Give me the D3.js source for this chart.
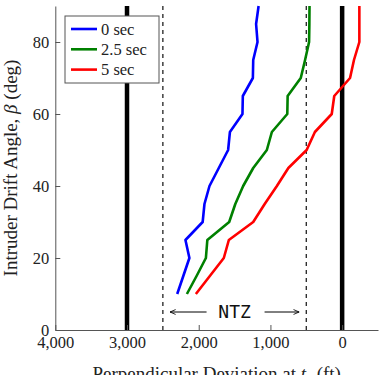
<!DOCTYPE html>
<html lang="en">
<head>
    <meta charset="UTF-8">
    <script src="https://d3js.org/d3.v7.min.js"></script>
    <style>
        body {
            margin: 0;
            padding: 0;
            background-color: #ffffff;
            overflow: hidden;
        }

        svg {
            display: block;
            font-family: 'Liberation Serif', serif;
        }

        .axis text {
            font-size: 16.5px;
            fill: #222;
            font-family: 'Liberation Serif', serif;
        }

        .axis path,
        .axis line {
            stroke: #555;
        }
    </style>
</head>
<body>
    <svg id="chart"></svg>

    <script>
        // Drift angle samples (deg)
        const angles = [10, 15, 20, 25, 30, 35, 40, 45, 50, 55, 60, 65, 70, 75, 80, 85, 90];

        // Perpendicular deviation (ft) for each delay
        const dev0 = [2300, 2215, 2130, 2185, 1945, 1920, 1850, 1720, 1590, 1565, 1390, 1385, 1245, 1240, 1180, 1200, 1165];
        const dev25 = [2165, 2030, 1900, 1880, 1575, 1490, 1380, 1240, 1050, 980, 765, 760, 577, 517, 461, 457, 455];
        const dev5 = [2040, 1845, 1650, 1580, 1240, 1080, 910, 750, 495, 380, 145, 110, -110, -165, -240, -240, -240];

        const seriesNames = ["0 sec", "2.5 sec", "5 sec"];
        const seriesColors = ["#0000ff", "#008000", "#ff0000"];

        const xTicks = [4000, 3000, 2000, 1000, 0];
        const yTicks = [0, 20, 40, 60, 80];

        // reference lines
        const solidLines = [3000, 0];
        const dashedLines = [2500, 500];
        const ntzFrom = 2400, ntzTo = 600, ntzMid = 1500, ntzAngle = 5;

        const width = 379, height = 375;
        const margin = { top: 6, right: 1, bottom: 45, left: 55.3 };

        const svg = d3.select("#chart")
            .attr("width", width)
            .attr("height", height);

        const x = d3.scaleLinear()
            .domain([4000, -500])
            .range([margin.left, width - margin.right]);

        const y = d3.scaleLinear()
            .domain([0, 90])
            .range([height - margin.bottom, margin.top]);

        // Solid thick lines
        svg.selectAll(".solid")
            .data(solidLines)
            .enter()
            .append("line")
            .attr("x1", d => x(d)).attr("x2", d => x(d))
            .attr("y1", y(0)).attr("y2", y(90))
            .attr("stroke", "#000")
            .attr("stroke-width", 4.5);

        // Dashed lines
        svg.selectAll(".dashed")
            .data(dashedLines)
            .enter()
            .append("line")
            .attr("x1", d => x(d)).attr("x2", d => x(d))
            .attr("y1", y(0)).attr("y2", y(90))
            .attr("stroke", "#222")
            .attr("stroke-width", 1.3)
            .attr("stroke-dasharray", "4,4");

        // Series lines
        const series = [dev0, dev25, dev5].map((vals, i) => ({
            name: seriesNames[i],
            color: seriesColors[i],
            points: vals.map((v, j) => ({ v: v, a: angles[j] }))
        }));

        const line = d3.line()
            .x(d => x(d.v))
            .y(d => y(d.a));

        svg.selectAll(".series")
            .data(series)
            .enter()
            .append("path")
            .attr("fill", "none")
            .attr("stroke", d => d.color)
            .attr("stroke-width", 2.6)
            .attr("stroke-linejoin", "round")
            .attr("d", d => line(d.points));

        // Axes
        svg.append("g")
            .attr("class", "axis")
            .attr("transform", `translate(0,${y(0)})`)
            .call(d3.axisBottom(x).tickValues(xTicks).tickSize(-5).tickSizeOuter(0).tickPadding(6)
                .tickFormat(d3.format(",")));

        svg.append("g")
            .attr("class", "axis")
            .attr("transform", `translate(${x(4000)},0)`)
            .call(d3.axisLeft(y).tickValues(yTicks).tickSize(-5).tickSizeOuter(0).tickPadding(6));

        // NTZ annotation
        svg.append("defs").append("marker")
            .attr("id", "arrow")
            .attr("viewBox", "0 0 10 10")
            .attr("refX", 9).attr("refY", 5)
            .attr("markerWidth", 7).attr("markerHeight", 7)
            .attr("orient", "auto")
            .append("path")
            .attr("d", "M1,1.5 L9,5 L1,8.5")
            .attr("fill", "none")
            .attr("stroke", "#000")
            .attr("stroke-width", 1.2);

        svg.append("line")
            .attr("x1", x(ntzMid) - 28).attr("x2", x(ntzFrom))
            .attr("y1", y(ntzAngle)).attr("y2", y(ntzAngle))
            .attr("stroke", "#000").attr("stroke-width", 1)
            .attr("marker-end", "url(#arrow)");

        svg.append("line")
            .attr("x1", x(ntzMid) + 30).attr("x2", x(ntzTo))
            .attr("y1", y(ntzAngle)).attr("y2", y(ntzAngle))
            .attr("stroke", "#000").attr("stroke-width", 1)
            .attr("marker-end", "url(#arrow)");

        svg.append("text")
            .attr("x", x(ntzMid))
            .attr("y", y(ntzAngle) + 6)
            .attr("text-anchor", "middle")
            .style("font-family", "'DejaVu Sans Mono', monospace")
            .style("font-size", "18px")
            .attr("fill", "#111")
            .text("NTZ");

        // Axis titles
        svg.append("text")
            .attr("x", (x(4000) + x(-500)) / 2)
            .attr("y", 380)
            .attr("text-anchor", "middle")
            .style("font-size", "19px")
            .attr("fill", "#222")
            .html("Perpendicular Deviation at <tspan font-style='italic'>t</tspan><tspan dy='3' font-size='13px' font-style='italic'>c</tspan><tspan dy='-3'> (ft)</tspan>");

        svg.append("text")
            .attr("transform", `translate(17,${(y(0) + y(90)) / 2}) rotate(-90)`)
            .attr("text-anchor", "middle")
            .style("font-size", "19px")
            .attr("fill", "#222")
            .html("Intruder Drift Angle, <tspan font-style='italic'>β</tspan> (deg)");

        // Legend
        const legend = svg.append("g").attr("transform", "translate(65,16)");

        legend.append("rect")
            .attr("width", 94).attr("height", 67)
            .attr("fill", "#fff")
            .attr("stroke", "#555")
            .attr("stroke-width", 1);

        const items = legend.selectAll(".item")
            .data(series)
            .enter()
            .append("g")
            .attr("transform", (d, i) => `translate(0,${13 + i * 20.3})`);

        items.append("line")
            .attr("x1", 6).attr("x2", 32)
            .attr("stroke", d => d.color)
            .attr("stroke-width", 2.6);

        items.append("text")
            .attr("x", 36)
            .attr("y", 5.5)
            .style("font-size", "16.5px")
            .attr("fill", "#222")
            .text(d => d.name);
    </script>
</body>
</html>
